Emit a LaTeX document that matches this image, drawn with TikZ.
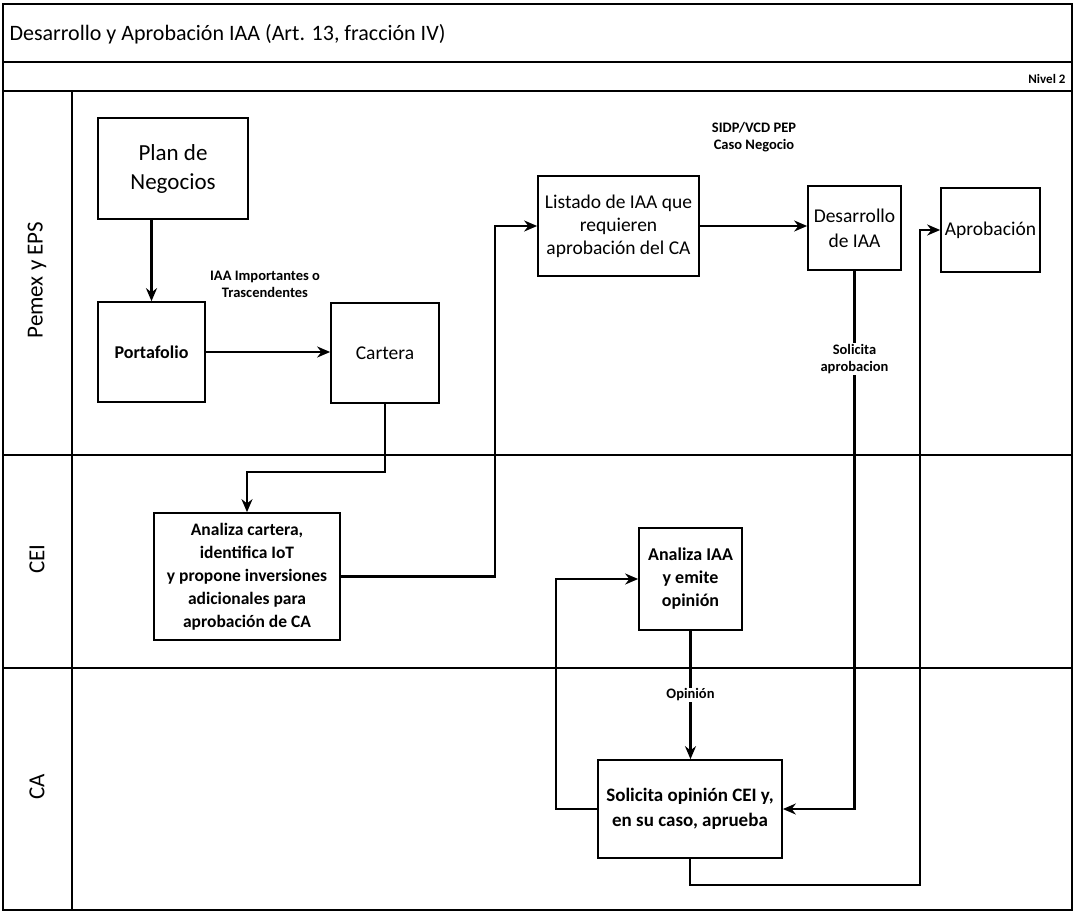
\documentclass[tikz,border=0pt]{standalone}
\usepackage{fontspec}
\setmainfont{Carlito}
\usetikzlibrary{arrows.meta,calc}
\begin{document}
\begin{tikzpicture}[x=1pt,y=-1pt,
  box/.style={draw, line width=1.7pt, align=center, inner sep=2pt},
  arr/.style={line width=2.1pt, -{Stealth[length=13pt,width=11pt]}},
  lane/.style={line width=1.9pt},
  lbl/.style={font=\bfseries\fontsize{14.5}{17}\selectfont, align=center, inner sep=1pt},
  lblw/.style={lbl, fill=white},
  big/.style={font=\fontsize{19.5}{24}\selectfont},
  med/.style={font=\bfseries\fontsize{18}{23}\selectfont},
  lanelbl/.style={rotate=90, font=\fontsize{23}{26}\selectfont},
]
\useasboundingbox (0,0) rectangle (1076,914);
\fill[white] (0,0) rectangle (1076,914);
% frame and lanes
\draw[lane] (3,4) rectangle (1072,910);
\draw[lane] (3,62) -- (1072,62);
\draw[lane] (3,91) -- (1072,91);
\draw[lane] (72,91) -- (72,910);
\draw[lane] (3,455) -- (1072,455);
\draw[lane] (3,668) -- (1072,668);
\node[anchor=west, font=\fontsize{22}{26}\selectfont] (title) at (6,34) {Desarrollo y Aprobación IAA (Art. 13, fracción IV)};
\node[anchor=east, font=\bfseries\fontsize{13}{15}\selectfont] (nivel) at (1069,79) {Nivel 2};
\node[lanelbl] (l1) at (37,280) {Pemex y EPS};
\node[lanelbl] (l2) at (37,559) {CEI};
\node[lanelbl] (l3) at (37,787) {CA};
% boxes
\node[box, minimum width=150pt, minimum height=101pt, font=\fontsize{23}{29}\selectfont] (plan) at (173,168.5) {Plan de\\Negocios};
\node[box, minimum width=107pt, minimum height=100pt, med] (port) at (151.5,352) {Portafolio};
\node[box, minimum width=108pt, minimum height=100pt, big] (cart) at (385,353) {Cartera};
\node[box, minimum width=161pt, minimum height=100pt, big, font=\fontsize{19.5}{23}\selectfont] (lis) at (618.5,226) {Listado de IAA que\\requieren\\aprobación del CA};
\node[box, minimum width=93pt, minimum height=84pt, big, font=\fontsize{19.5}{25}\selectfont] (des) at (854.5,228) {Desarrollo\\de IAA};
\node[box, minimum width=99pt, minimum height=84pt, big] (apr) at (990.5,230) {Aprobación};
\node[box, minimum width=186pt, minimum height=127pt, med, font=\bfseries\fontsize{17.5}{23}\selectfont] (anc) at (247,576.5) {Analiza cartera,\\identifica IoT\\y propone inversiones\\adicionales para\\aprobación de CA};
\node[box, minimum width=103pt, minimum height=102pt, med] (ani) at (690.5,579) {Analiza IAA\\y emite\\opinión};
\node[box, minimum width=184pt, minimum height=98pt, font=\bfseries\fontsize{19}{25}\selectfont] (sol) at (690,809) {Solicita opinión CEI y,\\en su caso, aprueba};
% free labels
\node[lbl] (t1) at (265,284) {IAA Importantes o\\Trascendentes};
\node[lbl] (t2) at (754,137) {SIDP/VCD PEP\\Caso Negocio};
% junctions
\coordinate (j1) at (385,472);
\coordinate (j2) at (495,0);
\coordinate (j3) at (920,0);
\coordinate (j4) at (556,0);
\coordinate (j5) at (0,885);
% connectors
\draw[arr] (port.north |- plan.south) -- (port.north);
\draw[arr] (port.east) -- (port.east -| cart.west);
\draw[arr] (cart.south) -- (cart.south |- j1) -| (anc.north);
\draw[arr] (anc.east) -- (anc.east -| j2) |- (lis.west);
\draw[arr] (lis.east) -- (lis.east -| des.west);
\draw[arr] (des.south) |- (sol.east) node[lblw, pos=0.082] {Solicita\\aprobacion};
\draw[arr] (sol.south) -- (sol.south |- j5) -| (j3 |- apr.west) -- (apr.west);
\draw[arr] (ani.south) -- (ani.south |- sol.north) node[lblw, pos=0.5] {Opinión};
\draw[arr] (sol.west) -- (sol.west -| j4) |- (ani.west);
\end{tikzpicture}
\end{document}
